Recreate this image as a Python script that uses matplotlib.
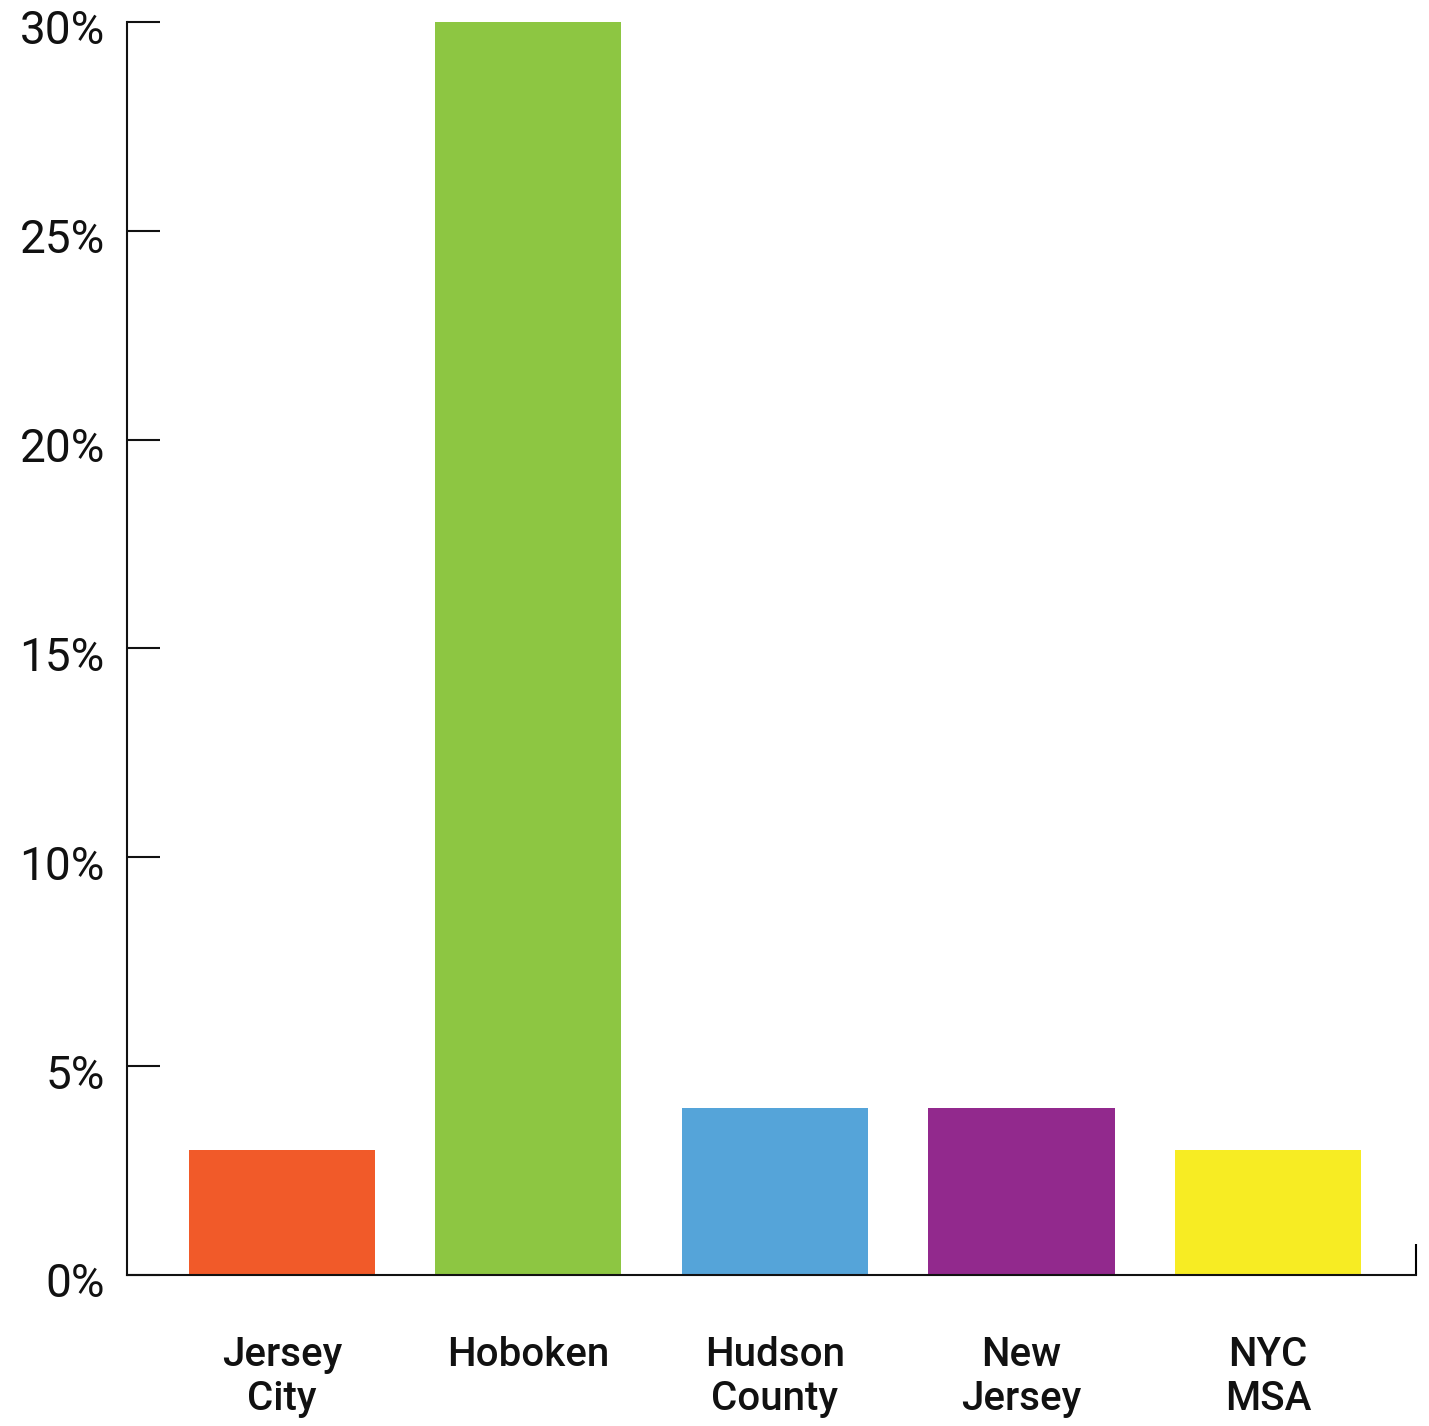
import matplotlib
matplotlib.use("Agg")
import matplotlib.pyplot as plt
from matplotlib.ticker import FuncFormatter
from matplotlib.transforms import ScaledTranslation

categories = ["Jersey\nCity", "Hoboken", "Hudson\nCounty", "New\nJersey", "NYC\nMSA"]
values = [3, 30, 4, 4, 3]
colors = ["#F15A29", "#8DC642", "#55A4D9", "#92298D", "#F7EC23"]
yticks = [0, 5, 10, 15, 20, 25, 30]

fig = plt.figure(figsize=(14.29, 14.26), dpi=100)
ax = fig.add_axes([0.0889, 0.1059, 0.9020, 0.8787])

x = list(range(len(categories)))
ax.bar(x, values, width=0.755, color=colors, zorder=1)

ax.set_xlim(-0.628, 4.6)
ax.set_ylim(0, 30)

ax.set_yticks(yticks)
ax.yaxis.set_major_formatter(FuncFormatter(lambda v, p: f"{v:.0f}%"))
ax.tick_params(axis="y", direction="in", length=24, width=1.5, pad=16,
               labelsize=33, colors="#111111")
shift = ScaledTranslation(0, -5 / 100, fig.dpi_scale_trans)
for lbl in ax.get_yticklabels():
    lbl.set_fontfamily("Roboto")
    lbl.set_fontweight("normal")
    lbl.set_transform(lbl.get_transform() + shift)

ax.set_xticks(x)
ax.set_xticklabels(categories, fontfamily="Roboto", fontweight="medium",
                   fontsize=29, linespacing=1.2, color="#111111")
ax.tick_params(axis="x", which="major", length=0, pad=44)

# small end mark on the baseline at the right edge
ax.set_xticks([4.6], minor=True)
ax.tick_params(axis="x", which="minor", direction="in", length=22, width=1.5,
               labelbottom=False)

for s in ["top", "right"]:
    ax.spines[s].set_visible(False)
for s in ["left", "bottom"]:
    ax.spines[s].set_linewidth(1.5)
    ax.spines[s].set_color("#111111")
    ax.spines[s].set_zorder(3)

fig.savefig("out.png", dpi=100)
